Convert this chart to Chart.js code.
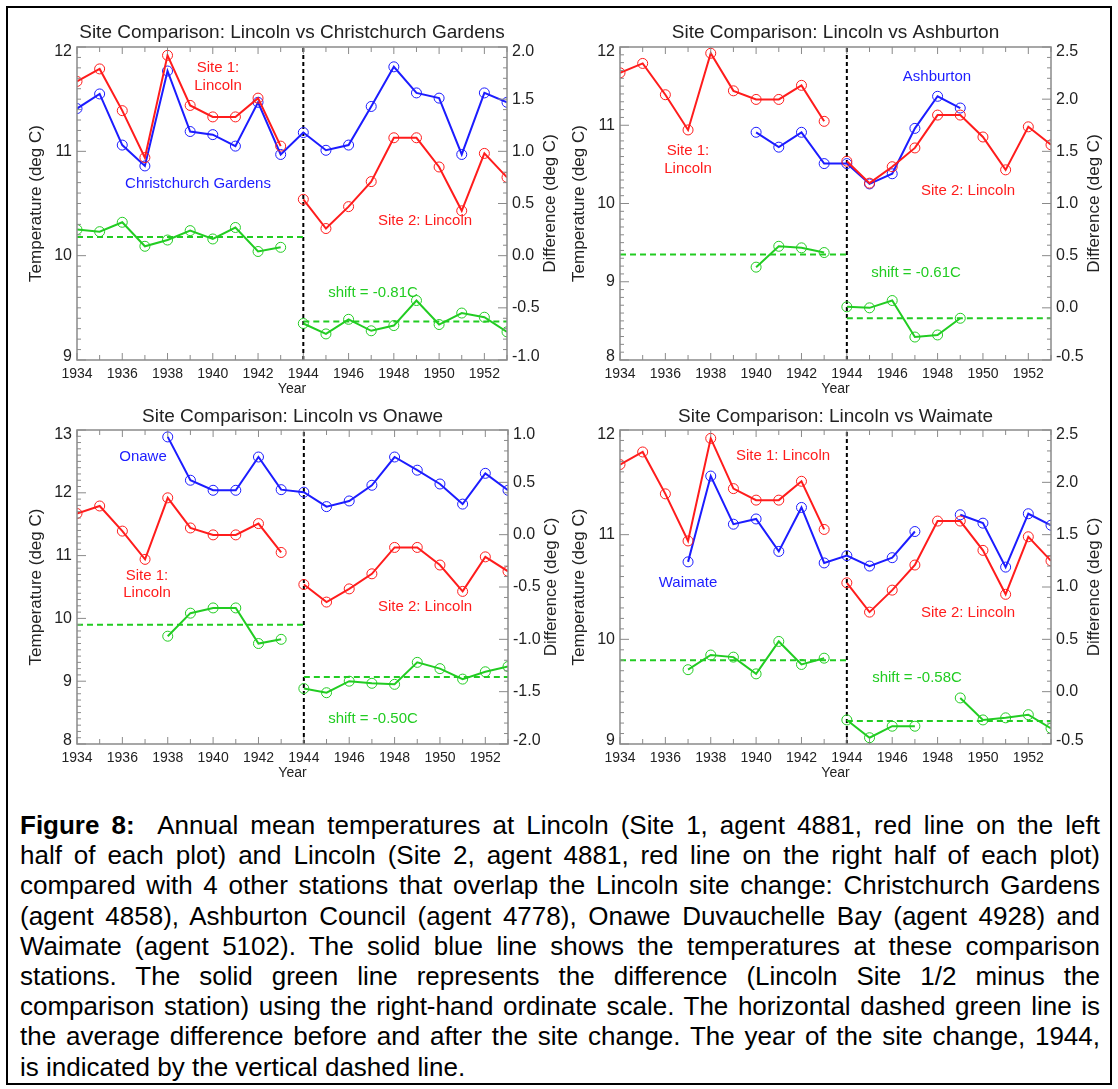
<!DOCTYPE html>
<html>
<head>
<meta charset="utf-8">
<script src="https://cdn.jsdelivr.net/npm/chart.js@4.4.1/dist/chart.umd.min.js"></script>
<style>
    body { margin: 0; background: #fff; }
    #page { position: relative; width: 1118px; height: 1089px; background: #fff; overflow: hidden;
        font-family: Arial, "Liberation Sans", Helvetica, sans-serif; }
    #frame { position: absolute; left: 6px; top: 6px; width: 1102px; height: 1075px; border: 2px solid #000; }
    #page canvas { position: absolute; }
    #caption { position: absolute; left: 20px; top: 810px; width: 1080px; font-size: 26px; line-height: 30.2px; color: #000; }
    #caption div { text-align: justify; text-align-last: justify; white-space: nowrap; }
    #caption div.last { text-align: left; text-align-last: left; }
</style>
</head>
<body>
<div id="page">
    <div id="frame"></div>
    <div id="caption">
        <div><b>Figure 8:</b>&nbsp; Annual mean temperatures at Lincoln (Site 1, agent 4881, red line on the left</div>
        <div>half of each plot) and Lincoln (Site 2, agent 4881, red line on the right half of each plot)</div>
        <div>compared with 4 other stations that overlap the Lincoln site change: Christchurch Gardens</div>
        <div>(agent 4858), Ashburton Council (agent 4778), Onawe Duvauchelle Bay (agent 4928) and</div>
        <div>Waimate (agent 5102). The solid blue line shows the temperatures at these comparison</div>
        <div>stations. The solid green line represents the difference (Lincoln Site 1/2 minus the</div>
        <div>comparison station) using the right-hand ordinate scale. The horizontal dashed green line is</div>
        <div>the average difference before and after the site change. The year of the site change, 1944,</div>
        <div class="last">is indicated by the vertical dashed line.</div>
    </div>
</div>
<script>
// years shared by all four panels
let years = [1934, 1935, 1936, 1937, 1938, 1939, 1940, 1941, 1942, 1943,
    1944, 1945, 1946, 1947, 1948, 1949, 1950, 1951, 1952, 1953]
let yearTicks = [1934, 1936, 1938, 1940, 1942, 1944, 1946, 1948, 1950, 1952]

// Lincoln site 1 (1934-1943) and site 2 (1944-1953)
let lincolnSite1 = [11.67, 11.79, 11.39, 10.94, 11.92, 11.44, 11.33, 11.33, 11.51, 11.05]
let lincolnSite2 = [10.54, 10.26, 10.47, 10.71, 11.13, 11.13, 10.85, 10.43, 10.98, 10.75]

// comparison stations, one value per year (null = no data)
let christchurch = [11.41, 11.55, 11.06, 10.86, 11.77, 11.19, 11.16, 11.05, 11.47, 10.97,
    11.18, 11.01, 11.06, 11.43, 11.81, 11.56, 11.51, 10.97, 11.56, 11.47]
let ashburton = [null, null, null, null, null, null, 10.91, 10.72, 10.91, 10.51,
    10.51, 10.25, 10.38, 10.96, 11.37, 11.22, null, null, null, null]
let onawe = [null, null, null, null, 12.89, 12.20, 12.04, 12.04, 12.57, 12.05,
    12.01, 11.78, 11.87, 12.12, 12.57, 12.36, 12.14, 11.82, 12.31, 12.04]
let waimate = [null, null, null, 10.74, 11.56, 11.10, 11.15, 10.84, 11.26, 10.73,
    10.80, 10.70, 10.78, 11.03, null, 11.19, 11.11, 10.69, 11.20, 11.09]

// differences Lincoln minus station (right-hand scale)
let diffChristchurch = [0.25, 0.23, 0.32, 0.09, 0.15, 0.24, 0.16, 0.27, 0.04, 0.08,
    -0.65, -0.75, -0.61, -0.72, -0.67, -0.43, -0.66, -0.55, -0.59, -0.73]
let diffAshburton = [null, null, null, null, null, null, 0.39, 0.59, 0.575, 0.53,
    0.01, 0.00, 0.07, -0.28, -0.26, -0.10, null, null, null, null]
let diffOnawe = [null, null, null, null, -0.97, -0.75, -0.70, -0.70, -1.04, -1.00,
    -1.47, -1.51, -1.40, -1.42, -1.43, -1.22, -1.28, -1.38, -1.31, -1.26]
let diffWaimate = [null, null, null, 0.21, 0.35, 0.33, 0.17, 0.48, 0.26, 0.32,
    -0.27, -0.44, -0.33, -0.33, null, -0.06, -0.27, -0.25, -0.22, -0.35]

// mean difference before / after the 1944 change
let meanChristchurch = [0.18, -0.63]
let meanAshburton = [0.51, -0.10]
let meanOnawe = [-0.86, -1.36]
let meanWaimate = [0.30, -0.28]

// axis ticks
let tempTicksA = [9, 10, 11, 12]
let tempTicksB = [8, 9, 10, 11, 12]
let tempTicksC = [8, 9, 10, 11, 12, 13]
let diffTicksA = [-1.0, -0.5, 0.0, 0.5, 1.0, 1.5, 2.0]
let diffTicksB = [-0.5, 0.0, 0.5, 1.0, 1.5, 2.0, 2.5]
let diffTicksC = [-2.0, -1.5, -1.0, -0.5, 0.0, 0.5, 1.0]

const RED = "rgb(255,28,28)"
const BLUE = "rgb(28,28,255)"
const GREEN = "rgb(34,204,34)"
const FONT = "Arial, 'Liberation Sans', Helvetica, sans-serif"
const W = 559, H = 395

let panels = [
    {
        title: "Site Comparison: Lincoln vs Christchurch Gardens", station: christchurch, diff: diffChristchurch,
        mean: meanChristchurch, tempTicks: tempTicksA, diffTicks: diffTicksA,
        pos: [0, 0], area: {left: 77, right: 507, top: 47, bottom: 360}, titleY: 33,
        notes: [["Site 1:", RED, 218, 68], ["Lincoln", RED, 218, 86], ["Christchurch Gardens", BLUE, 198, 184],
            ["Site 2: Lincoln", RED, 425, 221], ["shift = -0.81C", GREEN, 373, 293]]
    },
    {
        title: "Site Comparison: Lincoln vs Ashburton", station: ashburton, diff: diffAshburton,
        mean: meanAshburton, tempTicks: tempTicksB, diffTicks: diffTicksB,
        pos: [559, 0], area: {left: 61, right: 492, top: 47, bottom: 360}, titleY: 33,
        notes: [["Ashburton", BLUE, 378, 77], ["Site 1:", RED, 129, 151], ["Lincoln", RED, 129, 169],
            ["Site 2: Lincoln", RED, 409, 191], ["shift = -0.61C", GREEN, 357, 273]]
    },
    {
        title: "Site Comparison: Lincoln vs Onawe", station: onawe, diff: diffOnawe,
        mean: meanOnawe, tempTicks: tempTicksC, diffTicks: diffTicksC,
        pos: [0, 385], area: {left: 77, right: 508, top: 45, bottom: 359}, titleY: 32,
        notes: [["Onawe", BLUE, 143, 72], ["Site 1:", RED, 147, 191], ["Lincoln", RED, 147, 208],
            ["Site 2: Lincoln", RED, 425, 222], ["shift = -0.50C", GREEN, 373, 334]]
    },
    {
        title: "Site Comparison: Lincoln vs Waimate", station: waimate, diff: diffWaimate,
        mean: meanWaimate, tempTicks: tempTicksA, diffTicks: diffTicksB,
        pos: [559, 385], area: {left: 61, right: 492, top: 45, bottom: 359}, titleY: 32,
        notes: [["Site 1: Lincoln", RED, 224, 71], ["Waimate", BLUE, 129, 198],
            ["Site 2: Lincoln", RED, 409, 228], ["shift = -0.58C", GREEN, 358, 293]]
    }
]

function toPoints(values, yearList) {
    return yearList.map((yr, i) => ({x: yr, y: values[i]}))
}

function series(data, color, axis) {
    return {
        data: data, yAxisID: axis, borderColor: color, borderWidth: 2,
        pointStyle: "circle", pointRadius: 5, pointBorderWidth: 1,
        pointBorderColor: color, pointBackgroundColor: "rgba(0,0,0,0)", spanGaps: false
    }
}

function dashed(data, color, axis, dash) {
    return {
        data: data, yAxisID: axis, borderColor: color, borderWidth: 2,
        borderDash: dash, pointRadius: 0
    }
}

// box, inward ticks, tick labels, titles and notes in IDL style
const decor = {
    id: "decor",
    afterDatasetsDraw(chart, args, opts) {
        let p = opts.panel
        let {ctx, chartArea: a, scales} = chart
        ctx.save()
        ctx.strokeStyle = "#8a8a8a"
        ctx.lineWidth = 1.5
        ctx.strokeRect(a.left, a.top, a.right - a.left, a.bottom - a.top)
        ctx.lineWidth = 1
        ctx.beginPath()
        years.forEach(yr => {
            let x = scales.x.getPixelForValue(yr)
            let len = yearTicks.includes(yr) ? 7 : 5
            ctx.moveTo(x, a.bottom); ctx.lineTo(x, a.bottom - len)
            ctx.moveTo(x, a.top); ctx.lineTo(x, a.top + len)
        })
        let t0 = p.tempTicks[0], t1 = p.tempTicks.at(-1)
        for (let k = 0; k <= Math.round((t1 - t0) * 10); k++) {
            let y = scales.y.getPixelForValue(t0 + k / 10)
            let len = k % 10 === 0 ? 9 : 4
            ctx.moveTo(a.left, y); ctx.lineTo(a.left + len, y)
        }
        let d0 = p.diffTicks[0], d1 = p.diffTicks.at(-1)
        for (let k = 0; k <= Math.round((d1 - d0) * 10); k++) {
            let y = scales.y1.getPixelForValue(d0 + k / 10)
            let len = k % 5 === 0 ? 9 : 4
            ctx.moveTo(a.right, y); ctx.lineTo(a.right - len, y)
        }
        ctx.stroke()

        ctx.fillStyle = "#222"
        ctx.textBaseline = "middle"
        ctx.font = `16px ${FONT}`
        let nudge = (i, n) => i === 0 ? -3 : (i === n - 1 ? 5 : 0)
        ctx.textAlign = "right"
        p.tempTicks.forEach((v, i) => {
            ctx.fillText(String(v), a.left - 5, scales.y.getPixelForValue(v) + nudge(i, p.tempTicks.length))
        })
        ctx.textAlign = "left"
        p.diffTicks.forEach((v, i) => {
            ctx.fillText(v.toFixed(1), a.right + 5, scales.y1.getPixelForValue(v) + nudge(i, p.diffTicks.length))
        })

        let cx = (a.left + a.right) / 2, cy = (a.top + a.bottom) / 2
        ctx.textAlign = "center"
        ctx.font = `19px ${FONT}`
        ctx.fillText(p.title, cx, p.titleY)
        ctx.font = `14px ${FONT}`
        ctx.fillText("Year", cx, a.bottom + 29)
        ctx.font = `17px ${FONT}`
        ctx.save()
        ctx.translate(a.left - 41, cy); ctx.rotate(-Math.PI / 2)
        ctx.fillText("Temperature (deg C)", 0, 0)
        ctx.restore()
        ctx.save()
        ctx.translate(a.right + 43, cy); ctx.rotate(-Math.PI / 2)
        ctx.fillText("Difference (deg C)", 0, 0)
        ctx.restore()

        ctx.font = `15px ${FONT}`
        p.notes.forEach(([text, color, x, y]) => {
            ctx.fillStyle = color
            ctx.fillText(text, x, y)
        })
        ctx.restore()
    }
}

panels.forEach(p => {
    let canvas = document.createElement("canvas")
    canvas.width = W
    canvas.height = H
    canvas.style.left = p.pos[0] + "px"
    canvas.style.top = p.pos[1] + "px"
    document.getElementById("page").appendChild(canvas)

    let tMin = p.tempTicks[0], tMax = p.tempTicks.at(-1)
    let before = years.slice(0, 10), after = years.slice(10)
    let datasets = [
        series(toPoints(lincolnSite1, before), RED, "y"),
        series(toPoints(lincolnSite2, after), RED, "y"),
        series(toPoints(p.station, years), BLUE, "y"),
        series(toPoints(p.diff.slice(0, 10), before), GREEN, "y1"),
        series(toPoints(p.diff.slice(10), after), GREEN, "y1"),
        dashed([{x: 1934, y: p.mean[0]}, {x: 1944, y: p.mean[0]}], GREEN, "y1", [6, 4]),
        dashed([{x: 1944, y: p.mean[1]}, {x: 1953, y: p.mean[1]}], GREEN, "y1", [6, 4]),
        dashed([{x: 1944, y: tMin}, {x: 1944, y: tMax}], "#000", "y", [4, 3])
    ]

    new Chart(canvas, {
        type: "line",
        data: {datasets: datasets},
        options: {
            responsive: false,
            animation: false,
            devicePixelRatio: 1,
            layout: {padding: {top: p.area.top, left: 0, right: 0, bottom: 0}},
            plugins: {
                legend: {display: false},
                tooltip: {enabled: false},
                decor: {panel: p}
            },
            scales: {
                x: {
                    type: "linear", min: 1934, max: 1953,
                    afterBuildTicks: s => { s.ticks = yearTicks.map(v => ({value: v})) },
                    afterFit: s => { s.height = H - p.area.bottom },
                    ticks: {
                        autoSkip: false, maxRotation: 0, padding: 6, color: "#222",
                        font: {family: FONT, size: 14}, callback: v => String(v)
                    },
                    grid: {display: false, drawTicks: false},
                    border: {display: false}
                },
                y: {
                    position: "left", min: tMin, max: tMax,
                    afterFit: s => { s.width = p.area.left },
                    ticks: {display: false},
                    grid: {display: false, drawTicks: false},
                    border: {display: false}
                },
                y1: {
                    position: "right", min: p.diffTicks[0], max: p.diffTicks.at(-1),
                    afterFit: s => { s.width = W - p.area.right },
                    ticks: {display: false},
                    grid: {display: false, drawTicks: false},
                    border: {display: false}
                }
            }
        },
        plugins: [decor]
    })
})
</script>
</body>
</html>
